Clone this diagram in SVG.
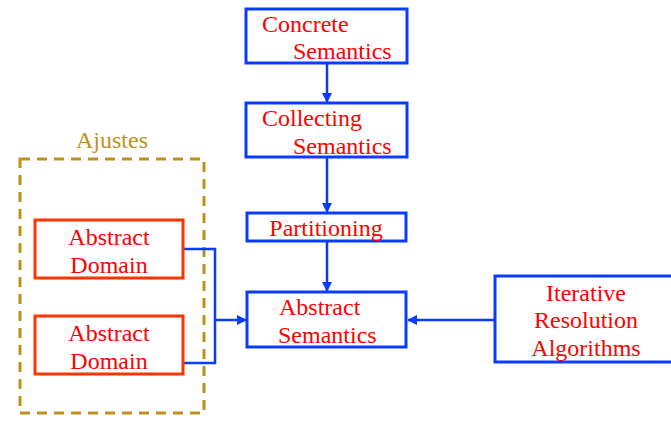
<svg xmlns="http://www.w3.org/2000/svg" width="671" height="421" viewBox="0 0 671 421">
<defs>
<style>
.b{fill:#fff;stroke:#0A3CFF;stroke-width:3}
.r{fill:#fff;stroke:#FF3300;stroke-width:3}
.t{font-family:"Liberation Serif","Times New Roman",serif;font-size:24px;fill:#FF0000}
.c{text-anchor:middle}
.l{fill:none;stroke:#0A3CFF;stroke-width:2.5}
</style>
<marker id="a" viewBox="0 0 10 10" refX="9" refY="5" markerWidth="4" markerHeight="4" orient="auto" markerUnits="strokeWidth"><path d="M0,0L10,5L0,10z" fill="#0A3CFF"/></marker>
</defs>
<g id="ajustes">
<rect x="20" y="159" width="184" height="254" fill="none" stroke="#C0901C" stroke-width="3" stroke-dasharray="10,7"/>
<text x="112" y="148" class="t c" style="fill:#C0901C">Ajustes</text>
</g>
<g id="connectors">
<line class="l" x1="327" y1="63" x2="327" y2="102" marker-end="url(#a)"/>
<line class="l" x1="327" y1="157" x2="327" y2="212" marker-end="url(#a)"/>
<line class="l" x1="327" y1="241" x2="327" y2="291" marker-end="url(#a)"/>
<line class="l" x1="495" y1="320" x2="408" y2="320" marker-end="url(#a)"/>
<polyline class="l" points="183,249 215,249 215,363 183,363"/>
<line class="l" x1="215" y1="320" x2="246" y2="320" marker-end="url(#a)"/>
</g>
<g id="concrete">
<rect class="b" x="246" y="9" width="161" height="54"/>
<text class="t" x="262" y="32">Concrete</text>
<text class="t" x="293" y="59">Semantics</text>
</g>
<g id="collecting">
<rect class="b" x="246" y="103" width="161" height="54"/>
<text class="t" x="262" y="126">Collecting</text>
<text class="t" x="293" y="154">Semantics</text>
</g>
<g id="partitioning">
<rect class="b" x="247" y="213" width="159" height="28"/>
<text class="t c" x="326" y="236">Partitioning</text>
</g>
<g id="abstract-semantics">
<rect class="b" x="247" y="292" width="159" height="55"/>
<text class="t" x="279" y="315">Abstract</text>
<text class="t" x="278" y="343">Semantics</text>
</g>
<g id="iterative">
<rect class="b" x="495" y="276" width="190" height="86"/>
<text class="t c" x="586" y="301">Iterative</text>
<text class="t c" x="586" y="328">Resolution</text>
<text class="t c" x="586" y="356">Algorithms</text>
</g>
<g id="domain1">
<rect class="r" x="35" y="220" width="148" height="58"/>
<text class="t c" x="109" y="245">Abstract</text>
<text class="t c" x="109" y="273">Domain</text>
</g>
<g id="domain2">
<rect class="r" x="35" y="316" width="148" height="58"/>
<text class="t c" x="109" y="341">Abstract</text>
<text class="t c" x="109" y="369">Domain</text>
</g>
</svg>
